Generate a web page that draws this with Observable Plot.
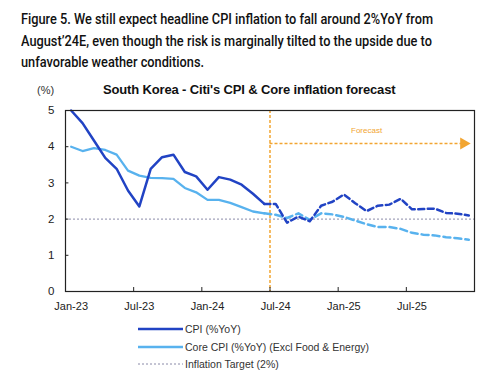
<!DOCTYPE html>
<html><head><meta charset="utf-8">
<script src="https://cdn.jsdelivr.net/npm/d3@7"></script>
<script src="https://cdn.jsdelivr.net/npm/@observablehq/plot@0.6"></script>
<style>
body{margin:0;background:#fff;font-family:"Liberation Sans",Arial,sans-serif;}
#wrap{position:relative;width:500px;height:375px;overflow:hidden;}
.ttl{position:absolute;left:21px;font-family:Roboto,"Liberation Sans",sans-serif;font-size:15.5px;font-weight:500;color:#111;white-space:nowrap;transform-origin:0 0;}
#ctitle{position:absolute;left:103px;top:82px;font-size:13px;font-weight:bold;color:#111;white-space:nowrap;letter-spacing:-0.15px;}
#pct{position:absolute;left:37px;top:84px;font-size:11px;color:#333;}
#plot{position:absolute;left:0;top:75px;}
.leg{position:absolute;left:138px;font-size:10.5px;color:#333;white-space:nowrap;display:flex;align-items:center;}
.leg svg{margin-right:2px;}
</style></head>
<body><div id="wrap">
<div class="ttl" id="t1" style="top:10px">Figure 5. We still expect headline CPI inflation to fall around 2%YoY from</div>
<div class="ttl" id="t2" style="top:32px">August’24E, even though the risk is marginally tilted to the upside due to</div>
<div class="ttl" id="t3" style="top:53px">unfavorable weather conditions.</div>
<div id="pct">(%)</div>
<div id="ctitle">South Korea - Citi's CPI &amp; Core inflation forecast</div>
<div id="plot"></div>
<div class="leg" style="top:322px"><svg width="45" height="14"><line x1="0" x2="45" y1="7" y2="7" stroke="#2143c4" stroke-width="2.5"/></svg>CPI (%YoY)</div>
<div class="leg" style="top:340px"><svg width="45" height="14"><line x1="0" x2="45" y1="7" y2="7" stroke="#58b2ee" stroke-width="2.5"/></svg>Core CPI (%YoY) (Excl Food &amp; Energy)</div>
<div class="leg" style="top:357px"><svg width="45" height="14"><line x1="0" x2="45" y1="7" y2="7" stroke="#8a8aa8" stroke-width="1" stroke-dasharray="2,2"/></svg>Inflation Target (2%)</div>
</div>
<script>
// Monthly categories Jan-23 .. Dec-25
const months = d3.range(36).map(i => d3.utcFormat("%b-%y")(new Date(Date.UTC(2023, i, 1))));
const tickLabels = ["Jan-23","Jul-23","Jan-24","Jul-24","Jan-25","Jul-25"];
const yTicks = [0,1,2,3,4,5];
// Actual: Jan-23 .. Jun-24
const cpiActual  = [5.0,4.65,4.17,3.69,3.39,2.79,2.35,3.39,3.71,3.78,3.30,3.18,2.81,3.16,3.09,2.95,2.70,2.42];
const coreActual = [4.0,3.88,3.96,3.91,3.78,3.34,3.20,3.14,3.13,3.11,2.86,2.74,2.53,2.53,2.45,2.33,2.21,2.16];
// Forecast: Jul-24 .. Dec-25
const cpiForecast  = [2.42,1.90,2.07,1.94,2.37,2.48,2.68,2.44,2.22,2.37,2.40,2.56,2.27,2.28,2.29,2.17,2.15,2.10];
const coreForecast = [2.12,2.03,2.16,1.98,2.16,2.13,2.06,1.96,1.86,1.78,1.78,1.73,1.62,1.57,1.55,1.50,1.47,1.43];
const target = 2;
const forecastStart = "Jul-24";
const forecastLabel = "Forecast";

const idx = m => months.indexOf(m);
const pos = m => idx(m) + 0.5;
const nA = cpiActual.length;
const actual = months.slice(0, nA).map((m,i)=>({m, cpi:cpiActual[i], core:coreActual[i]}));
const fc = [actual[nA-1]].concat(months.slice(nA).map((m,i)=>({m, cpi:cpiForecast[i], core:coreForecast[i]})));
const fs = idx(forecastStart);

const CPI = "#2143c4", CORE = "#58b2ee", ORANGE = "#f2a531";

const chart = Plot.plot({
  width: 500, height: 240,
  marginLeft: 65, marginRight: 26, marginTop: 35, marginBottom: 24,
  style: {fontFamily: "'Liberation Sans', Arial, sans-serif", fontSize: "11px", color: "#222", background: "transparent"},
  x: {domain: [0, 36], axis: null, label: null},
  y: {domain: [0, 5], axis: null, label: null},
  marks: [
    Plot.ruleY([target], {stroke: "#8a8aa8", strokeWidth: 1, strokeDasharray: "2,2"}),
    Plot.ruleX([fs], {stroke: ORANGE, strokeWidth: 1.5, strokeDasharray: "3,2"}),
    Plot.ruleY([4.09], {x1: fs, x2: 35.0, stroke: ORANGE, strokeWidth: 1.5, strokeDasharray: "3,2"}),
    Plot.dot([{x: 35.05, y: 4.09}], {x: "x", y: "y", symbol: "triangle", rotate: 90, r: 4.5, fill: ORANGE, stroke: "none"}),
    Plot.text([forecastLabel], {x: 26.5, y: 4.45, text: d => d, fill: ORANGE, fontSize: 8}),
    Plot.line(actual, {x: d => pos(d.m), y: "core", stroke: CORE, strokeWidth: 2.3}),
    Plot.line(fc, {x: d => pos(d.m), y: "core", stroke: CORE, strokeWidth: 2.5, strokeDasharray: "7,4"}),
    Plot.line(actual, {x: d => pos(d.m), y: "cpi", stroke: CPI, strokeWidth: 2.5}),
    Plot.line(fc, {x: d => pos(d.m), y: "cpi", stroke: CPI, strokeWidth: 2.5, strokeDasharray: "6,3.5"}),
    // inward tick marks
    Plot.ruleX([6,12,18,24,30], {y1: 0, y2: 0.11, stroke: "#222", strokeWidth: 1}),
    Plot.ruleY([1,2,3,4], {x1: 0, x2: 0.3, stroke: "#222", strokeWidth: 1}),
    Plot.axisX(tickLabels.map(pos), {tickSize: 0, tickPadding: 11, label: null, tickFormat: (d) => months[Math.floor(d)], fontSize: 11, fill: "#222"}),
    Plot.axisY(yTicks, {tickSize: 0, tickPadding: 11, label: null, fontSize: 11.5, fill: "#222"}),
    Plot.frame({stroke: "#222", strokeWidth: 1.2})
  ]
});
document.getElementById("plot").appendChild(chart);

// condense figure title lines to match reference width
const t1 = document.getElementById("t1");
const s = 412 / t1.getBoundingClientRect().width;
["t1","t2","t3"].forEach(id => document.getElementById(id).style.transform = `scaleX(${s})`);
</script>
</body></html>
